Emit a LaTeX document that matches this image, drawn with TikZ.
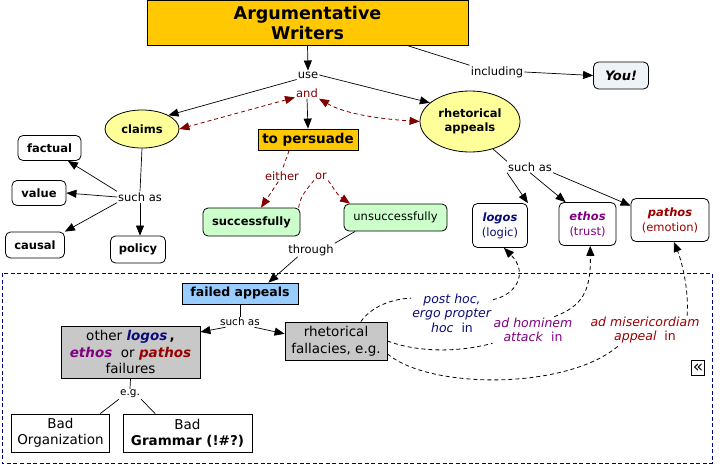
\documentclass[tikz,border=0pt]{standalone}
\usepackage{fontspec}
\setmainfont{DejaVu Sans}
\usetikzlibrary{arrows.meta,shapes.geometric}
\definecolor{gold}{HTML}{FFC800}
\definecolor{claimy}{HTML}{FFFF99}
\definecolor{greenb}{HTML}{CCFFCC}
\definecolor{blueb}{HTML}{99CCFF}
\definecolor{grayb}{HTML}{C8C8C8}
\definecolor{youb}{HTML}{EEF3F7}
\definecolor{darkred}{HTML}{800000}
\definecolor{navy}{HTML}{0C0C78}
\definecolor{purp}{HTML}{800080}
\definecolor{pathc}{HTML}{990000}
\definecolor{regionc}{HTML}{000080}
\newcommand\fsz[2]{\fontsize{#1}{#2}\selectfont}
\tikzset{
  link/.style={fill=white, inner sep=1pt, font=\fsz{11.5pt}{14pt}},
  smalllink/.style={fill=white, inner sep=1pt, font=\fsz{10.5pt}{12pt}},
  boxbase/.style={draw, line width=0.8pt, align=center, inner sep=0pt},
  rbox/.style={boxbase, rounded corners=5pt, fill=white, font=\fsz{11.5pt}{15pt}\bfseries},
  nbox/.style={boxbase, rounded corners=5pt, fill=white, font=\fsz{11.5pt}{15pt}},
  ellip/.style={boxbase, ellipse, fill=claimy, font=\fsz{11.5pt}{14pt}\bfseries},
  goldbox/.style={boxbase, fill=gold},
  sqbox/.style={boxbase, fill=white, font=\fsz{13.5pt}{16pt}},
  graybox/.style={boxbase, fill=grayb, font=\fsz{13.5pt}{16.5pt}},
  arr/.style={-{Triangle[length=10pt,width=8pt]}, line width=0.7pt},
  plain/.style={line width=0.7pt},
  redd/.style={draw=darkred, line width=0.8pt, dash pattern=on 4pt off 3pt},
  redtip/.style={{Triangle[length=10pt,width=8pt]}-{Triangle[length=10pt,width=8pt]}, darkred},
  blkd/.style={line width=0.8pt, dash pattern=on 4pt off 3pt},
  fallab/.style={inner sep=1pt, align=center, font=\fsz{12.5pt}{14.5pt}},
}
\begin{document}
\begin{tikzpicture}[x=1pt,y=-1pt]
\useasboundingbox (0,0) rectangle (725,466);
% region
\draw[regionc, line width=0.8pt, dash pattern=on 4pt off 2.5pt] (2,273) rectangle (712,463);
\node[draw, line width=0.8pt, fill=white, inner sep=0pt, minimum width=13pt, minimum height=15pt, font=\fsz{17pt}{17pt}] (collapse) at (698,368) {«};

% top nodes
\node[goldbox, minimum width=321pt, minimum height=45pt, font=\fsz{17.5pt}{20pt}\bfseries] (title) at (307.5,22.5) {Argumentative\\Writers};
\node[link] (use) at (308,75) {use};
\node[link, text=darkred] (and) at (307,93) {and};
\node[link] (including) at (497,72) {including};
\node[boxbase, rounded corners=5pt, fill=youb, minimum width=55pt, minimum height=27pt, font=\fsz{13pt}{15pt}\bfseries\itshape] (you) at (621,75.5) {You!};
\node[ellip, minimum width=74pt, minimum height=38pt] (claims) at (142,129) {claims};
\node[ellip, minimum width=100pt, minimum height=61pt] (ra) at (470,121.5) {rhetorical\\appeals};
\node[goldbox, minimum width=100pt, minimum height=21pt, font=\fsz{13.5pt}{15pt}\bfseries] (persuade) at (308,139.5) {to persuade};

% claims branch
\node[link] (suchas1) at (140,197) {such as};
\node[rbox, minimum width=63pt, minimum height=25pt] (factual) at (49.5,148) {factual};
\node[rbox, minimum width=54pt, minimum height=25pt] (value) at (39,193) {value};
\node[rbox, minimum width=59pt, minimum height=26pt] (causal) at (35,245) {causal};
\node[rbox, minimum width=55pt, minimum height=27pt] (policy) at (138,249.5) {policy};

% persuade branch
\node[link, text=darkred] (either) at (282,176) {either};
\node[link, text=darkred] (or) at (321,176) {or};
\node[rbox, fill=greenb, minimum width=97pt, minimum height=28pt] (succ) at (251.5,222) {successfully};
\node[nbox, fill=greenb, minimum width=103pt, minimum height=27pt] (unsucc) at (395.5,217.5) {unsuccessfully};
\node[link] (through) at (311,250) {through};

% rhetorical appeals branch
\node[link] (suchas2) at (530,167) {such as};
\node[nbox, minimum width=55pt, minimum height=44pt, text=navy] (logos) at (500,225.5) {\textbf{\textit{logos}}\\(logic)};
\node[nbox, minimum width=57pt, minimum height=43pt, text=purp] (ethos) at (587.5,224) {\textbf{\textit{ethos}}\\(trust)};
\node[nbox, minimum width=78pt, minimum height=43pt, text=pathc] (pathos) at (670,220) {\textbf{\textit{pathos}}\\(emotion)};

% failed appeals region
\node[goldbox, fill=blueb, minimum width=116pt, minimum height=21pt, font=\fsz{12.5pt}{15pt}\bfseries] (failed) at (240,293.5) {failed appeals};
\node[smalllink] (suchas3) at (240,322) {such as};
\node[graybox, minimum width=139pt, minimum height=52pt] (other) at (130.5,352) {other \textbf{\textit{\color{navy}logos}}\,\textbf{,}\\\textbf{\textit{\color{purp}ethos}}\ \ or \textbf{\textit{\color{pathc}pathos}}\\failures};
\node[smalllink] (eg) at (130,394) {e.g.};
\node[sqbox, minimum width=98pt, minimum height=38pt] (badorg) at (60.5,433) {Bad\\Organization};
\node[sqbox, minimum width=129pt, minimum height=38pt] (badgram) at (187.5,433) {Bad\\\textbf{Grammar (!\#?)}};
\node[graybox, minimum width=102pt, minimum height=38pt, font=\fsz{13.5pt}{17pt}] (fall) at (336,341) {rhetorical\\fallacies, e.g.};
\node[fallab, text=navy] (posthoc) at (452,313) {\textit{post hoc,}\\\textit{ergo propter}\\\textit{hoc}\ \ in};
\node[fallab, text=purp] (adhom) at (533,330) {\textit{ad hominem}\\\textit{attack}\ \ in};
\node[fallab, text=pathc] (admis) at (645,330) {\textit{ad misericordiam}\\\textit{appeal}\ \ in};

% connectors top
\draw[arr] (title.south) -- (use.north);
\draw[arr] (use.south west) -- (claims.north east);
\draw[arr] (use.east) -- (ra.155);
\draw[arr] (and.south) -- (persuade.north);
\draw[plain] (title.-13) -- (including.north west);
\draw[arr] (including.east) -- (you.west);
\draw[redd, redtip] (and.200) -- (claims.east);
\draw[redd, redtip] (and.south east) .. controls (345,114) and (380,119) .. (ra.west);

% claims connectors
\draw[plain] (claims.south) -- (suchas1.north);
\draw[arr] (suchas1.north west) -- (factual.-35);
\draw[arr] (suchas1.west) -- (value.east);
\draw[arr] (suchas1.south west) -- (causal.north east);
\draw[arr] (suchas1.south) -- (suchas1.south |- policy.north);

% persuade connectors
\draw[redd] (persuade.210) -- (either.north);
\draw[redd, -{Triangle[length=10pt,width=8pt]}] (either) -- (succ);
\draw[redd] (succ.17) .. controls (300,197) and (306,190) .. (or.south west);
\draw[redd, -{Triangle[length=10pt,width=8pt]}] (or.south east) .. controls (334,188) and (336,194) .. (unsucc.163);
\draw[plain] (unsucc.199) -- (through.north east);
\draw[arr] (through.207) -- (failed.21);

% rhetorical appeals connectors
\draw[plain] (ra.-50) -- (suchas2.north west);
\draw[arr] (suchas2.south west) -- (logos.north east);
\draw[arr] (suchas2.south) -- (ethos.135);
\draw[arr] (suchas2.south east) -- (pathos.160);

% failed appeals connectors
\draw[plain] (failed.south) -- (suchas3.north);
\draw[arr] (suchas3.200) -- (other.16);
\draw[arr] (suchas3.-20) -- (fall.172);
\draw[plain] (other.south) -- (eg.north);
\draw[plain] (eg.south west) -- (badorg.26);
\draw[plain] (eg.south east) -- (badgram.149);

% fallacy connectors
\draw[blkd] (fall.38) .. controls (372,306) and (392,299) .. (posthoc.160);
\draw[blkd, -{Triangle[length=10pt,width=8pt]}] (posthoc.18) .. controls (518,294) and (528,272) .. (logos.-80);
\draw[blkd] (fall.east) .. controls (420,353) and (460,352) .. (adhom.south west);
\draw[blkd, -{Triangle[length=10pt,width=8pt]}] (adhom.32) .. controls (582,306) and (591,292) .. (ethos.-83);
\draw[blkd] (fall.-14) .. controls (430,390) and (570,390) .. (admis.-150);
\draw[blkd, -{Triangle[length=10pt,width=8pt]}] (admis.19) .. controls (689,290) and (682,262) .. (pathos.-80);
\end{tikzpicture}
\end{document}
